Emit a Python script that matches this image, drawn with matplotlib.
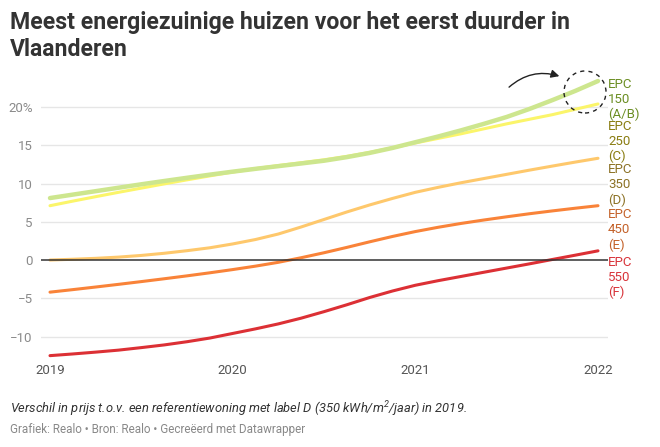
import matplotlib
matplotlib.use("Agg")
import matplotlib.pyplot as plt
from matplotlib.patches import Circle
from matplotlib.transforms import IdentityTransform, blended_transform_factory

plt.rcParams['font.family'] = ['Roboto', 'DejaVu Sans']
plt.rcParams['mathtext.fontset'] = 'custom'
plt.rcParams['mathtext.rm'] = 'Roboto:italic'
plt.rcParams['mathtext.it'] = 'Roboto:italic'

# ---- data (every 1/8 year) ----
years = [2019.0, 2019.125, 2019.25, 2019.375, 2019.5, 2019.625, 2019.75, 2019.875,
         2020.0, 2020.125, 2020.25, 2020.375, 2020.5, 2020.625, 2020.75, 2020.875,
         2021.0, 2021.125, 2021.25, 2021.375, 2021.5, 2021.625, 2021.75, 2021.875,
         2022.0]
epc150 = [8.10, 8.55, 9.00, 9.45, 9.90, 10.33, 10.75, 11.16,
          11.55, 11.92, 12.27, 12.62, 12.98, 13.45, 14.00, 14.65,
          15.40, 16.15, 16.95, 17.80, 18.70, 19.75, 20.90, 22.10,
          23.40]
epc250 = [7.10, 7.70, 8.28, 8.85, 9.40, 9.95, 10.48, 11.00,
          11.50, 11.95, 12.35, 12.72, 13.10, 13.55, 14.07, 14.67,
          15.30, 15.90, 16.50, 17.15, 17.80, 18.40, 19.00, 19.70,
          20.40]
epc350 = [0.00, 0.10, 0.22, 0.38, 0.60, 0.88, 1.22, 1.60,
          2.10, 2.68, 3.40, 4.32, 5.30, 6.28, 7.20, 8.05,
          8.85, 9.50, 10.10, 10.65, 11.20, 11.75, 12.28, 12.80,
          13.30]
epc450 = [-4.20, -3.87, -3.53, -3.18, -2.82, -2.45, -2.07, -1.67,
          -1.25, -0.80, -0.30, 0.30, 0.95, 1.65, 2.38, 3.08,
          3.72, 4.28, 4.78, 5.23, 5.65, 6.05, 6.42, 6.77,
          7.10]
epc550 = [-12.50, -12.28, -12.04, -11.78, -11.45, -11.10, -10.68, -10.20,
          -9.60, -9.00, -8.35, -7.60, -6.75, -5.85, -4.90, -4.05,
          -3.30, -2.70, -2.15, -1.60, -1.05, -0.50, 0.07, 0.63,
          1.20]

series_labels = ["EPC\n150\n(A/B)", "EPC\n250\n(C)", "EPC\n350\n(D)", "EPC\n450\n(E)", "EPC\n550\n(F)"]
label_y = [21.0, 15.5, 9.8, 3.9, -2.3]

y_ticks = [-10, -5, 0, 5, 10, 15, 20]
y_ticklabels = ["−10", "−5", "0", "5", "10", "15", "20%"]
x_ticks = [2019, 2020, 2021, 2022]
x_ticklabels = ["2019", "2020", "2021", "2022"]

line_colors = ["#cde68e", "#fbf56a", "#fec86c", "#f98339", "#dc3035"]
label_colors = ["#6b8e23", "#8a7d12", "#8c7226", "#c4622a", "#d8343a"]
line_widths = [3.2, 2.2, 2.2, 2.2, 2.2]

W, H = 660, 447
fig = plt.figure(figsize=(W / 100, H / 100), dpi=100)
ax = fig.add_axes([41 / W, 87 / H, (608 - 41) / W, (360 - 70) / H])

ax.set_xlim(2019 - 9 / 182.67, 2022 + 10 / 182.67)
ax.set_ylim(-13.07, 24.84)

for s in ax.spines.values():
    s.set_visible(False)

for yt in y_ticks:
    if yt == 0:
        continue
    ax.axhline(yt, color="#e6e6e6", lw=1.0, zorder=0)
ax.axhline(0, color="#333333", lw=1.1, zorder=4)

all_series = [epc150, epc250, epc350, epc450, epc550]
order = [4, 3, 2, 1, 0]
for i in order:
    ax.plot(years, all_series[i], color=line_colors[i], lw=line_widths[i],
            solid_capstyle='round', solid_joinstyle='round',
            zorder=2 + (0.5 if i == 0 else 0))

ax.set_yticks(y_ticks)
ax.set_yticklabels(y_ticklabels)
ax.set_xticks(x_ticks)
ax.set_xticklabels(x_ticklabels)
ax.tick_params(axis='y', length=0, pad=6, labelsize=9.5, labelcolor="#8a8a8a")
ax.tick_params(axis='x', length=0, pad=3, labelsize=9.5, labelcolor="#555555")

# end labels
trans = blended_transform_factory(ax.transAxes, ax.transData)
for lab, ly, c in zip(series_labels, label_y, label_colors):
    ax.text(1.0, ly, lab, transform=trans, ha='left', va='center', color=c,
            fontsize=9.5, linespacing=1.2, clip_on=False)

# annotation: dashed circle + curved arrow (pixel coords)
circ = Circle((585, H - 92), 21, transform=IdentityTransform(), fill=False,
              ls=(0, (3, 3)), lw=1.0, ec="#222222")
fig.patches.append(circ)
ax.annotate("", xy=(562, H - 77), xytext=(507, H - 89), xycoords='figure pixels',
            textcoords='figure pixels',
            arrowprops=dict(arrowstyle="-|>", color="#222222", lw=1.0,
                            connectionstyle="arc3,rad=-0.3", mutation_scale=12))

# title and notes
fig.text(10 / W, 1 - 11 / H, "Meest energiezuinige huizen voor het eerst duurder in\nVlaanderen",
         ha='left', va='top', fontsize=16.6, fontweight='bold', color="#333333", linespacing=1.2)
fig.text(10 / W, 1 - 409 / H,
         "Verschil in prijs t.o.v. een referentiewoning met label D (350 kWh/m$^{2}$/jaar) in 2019.",
         ha='left', va='center', fontsize=9.25, style='italic', color="#333333")
fig.text(10 / W, 1 - 429 / H, "Grafiek: Realo • Bron: Realo • Gecreëerd met Datawrapper",
         ha='left', va='center', fontsize=8.4, color="#888888")

fig.savefig("out.png", dpi=100)
